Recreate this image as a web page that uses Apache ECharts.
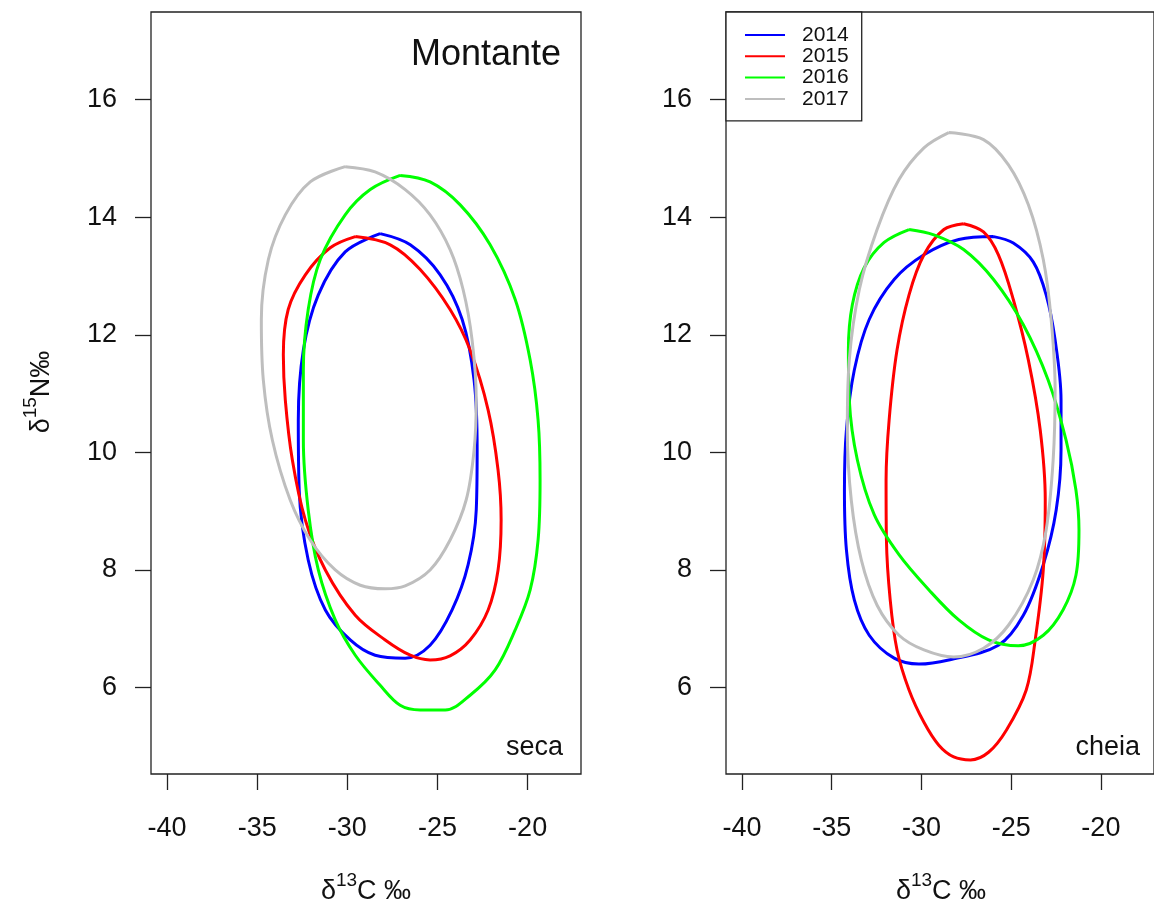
<!DOCTYPE html>
<html>
<head>
<meta charset="utf-8">
<script src="https://cdn.jsdelivr.net/npm/echarts@6/dist/echarts.min.js"></script>
<style>
html,body{margin:0;padding:0;background:#fff;}
#chart{width:1154px;height:905px;}
</style>
</head>
<body>
<div id="chart"></div>
<script>
// ---- tick labels / categories ----
const xTicks = [-40, -35, -30, -25, -20];
const yTicks = [6, 8, 10, 12, 14, 16];
const years = ['2014', '2015', '2016', '2017'];
const panelLabels = ['seca', 'cheia'];

// ---- ellipse outlines, [δ13C, δ15N] ----
// Left panel (Montante, seca)
const seca2014 = [[-28.18,13.72],[-26.51,13.53],[-24.85,13.02],[-23.63,12.26],[-22.97,11.23],[-22.80,10.04],[-22.85,9.02],[-23.30,8.09],[-24.19,7.32],[-25.41,6.72],[-26.79,6.50],[-28.46,6.55],[-29.84,6.81],[-31.22,7.32],[-32.17,8.17],[-32.67,9.36],[-32.72,10.55],[-32.44,11.74],[-31.61,12.68],[-30.12,13.41]];
const seca2015 = [[-29.56,13.67],[-27.62,13.53],[-25.96,13.11],[-24.30,12.43],[-23.19,11.74],[-22.19,10.72],[-21.64,9.70],[-21.47,8.85],[-21.64,8.00],[-22.19,7.32],[-23.19,6.81],[-24.30,6.54],[-25.41,6.47],[-26.51,6.55],[-27.90,6.81],[-29.56,7.23],[-31.22,8.00],[-32.33,8.85],[-33.05,9.87],[-33.44,10.89],[-33.55,11.66],[-33.28,12.43],[-32.33,13.02],[-30.95,13.48]];
const seca2016 = [[-27.07,14.71],[-25.41,14.60],[-23.74,14.21],[-22.08,13.53],[-20.69,12.60],[-19.86,11.57],[-19.42,10.55],[-19.31,9.53],[-19.42,8.51],[-19.86,7.66],[-20.69,6.98],[-21.80,6.30],[-23.19,5.87],[-24.57,5.62],[-25.96,5.62],[-27.07,5.70],[-28.18,6.04],[-29.56,6.55],[-30.67,7.15],[-31.61,8.00],[-32.17,9.02],[-32.44,10.21],[-32.44,11.40],[-32.17,12.43],[-31.50,13.28],[-30.12,14.04],[-28.73,14.47]];
const seca2017 = [[-30.12,14.86],[-28.46,14.77],[-26.79,14.47],[-25.41,14.04],[-24.30,13.45],[-23.58,12.77],[-23.08,11.91],[-22.85,10.89],[-22.97,10.04],[-23.41,9.19],[-24.30,8.51],[-25.41,8.00],[-26.79,7.73],[-27.90,7.68],[-29.28,7.74],[-30.67,8.00],[-32.06,8.51],[-33.17,9.19],[-34.16,10.21],[-34.66,11.23],[-34.77,12.26],[-34.38,13.28],[-33.44,14.04],[-32.06,14.60]];
// Right panel (cheia)
const cheia2014 = [[-25.98,13.67],[-24.88,13.56],[-23.77,13.24],[-23.05,12.68],[-22.55,11.91],[-22.22,10.89],[-22.22,10.04],[-22.49,9.02],[-23.21,8.09],[-24.32,7.23],[-25.71,6.72],[-28.48,6.47],[-30.14,6.40],[-31.52,6.50],[-32.91,6.89],[-33.74,7.49],[-34.18,8.34],[-34.29,9.36],[-34.18,10.38],[-33.74,11.40],[-32.91,12.26],[-31.52,12.94],[-29.86,13.36],[-27.92,13.62]];
const cheia2015 = [[-27.65,13.89],[-26.54,13.75],[-25.71,13.36],[-24.88,12.60],[-24.04,11.57],[-23.38,10.38],[-23.10,9.19],[-23.21,8.00],[-23.66,6.81],[-24.16,5.96],[-25.26,5.28],[-26.26,4.90],[-27.26,4.77],[-28.20,4.82],[-29.03,5.02],[-29.86,5.41],[-30.69,5.96],[-31.36,6.64],[-31.74,7.49],[-31.95,8.51],[-31.97,9.53],[-31.80,10.55],[-31.36,11.74],[-30.69,12.68],[-29.86,13.36],[-28.75,13.79]];
const cheia2016 = [[-30.69,13.79],[-29.31,13.70],[-27.65,13.45],[-25.98,12.94],[-24.32,12.17],[-22.94,11.23],[-21.94,10.21],[-21.39,9.36],[-21.22,8.68],[-21.39,7.91],[-22.11,7.32],[-23.21,6.89],[-24.60,6.71],[-26.26,6.81],[-27.92,7.15],[-29.58,7.66],[-31.25,8.26],[-32.63,8.94],[-33.57,9.87],[-34.02,10.89],[-34.07,11.74],[-33.85,12.51],[-33.19,13.14],[-32.08,13.57]];
const cheia2017 = [[-28.48,15.44],[-26.54,15.32],[-25.15,14.89],[-24.04,14.21],[-23.21,13.28],[-22.77,12.26],[-22.55,11.06],[-22.66,9.87],[-23.05,8.68],[-23.77,7.83],[-25.15,7.06],[-26.54,6.67],[-28.20,6.52],[-29.86,6.64],[-31.25,6.89],[-32.47,7.40],[-33.35,8.17],[-33.91,9.19],[-34.13,10.38],[-34.02,11.57],[-33.46,12.77],[-32.47,13.79],[-31.25,14.64],[-29.86,15.18]];

const panels = [
  [seca2014, seca2015, seca2016, seca2017],
  [cheia2014, cheia2015, cheia2016, cheia2017]
];

// ---- styles ----
const palette = ['#0000FF', '#FF0000', '#00FF00', '#BEBEBE'];
const FONT = 'Liberation Sans, Arial, sans-serif';
const xRange = [-40.89, -17.04];
const yRange = [4.53, 17.49];

const chart = echarts.init(document.getElementById('chart'), null, {renderer: 'canvas'});

const grids = [
  {left: 151, top: 12, width: 430, height: 762},
  {left: 726, top: 12, width: 430, height: 762}
].map(g => Object.assign(g, {show: true, borderColor: '#222', borderWidth: 1.3, backgroundColor: 'transparent', containLabel: false}));

function xAxisFor(i) {
  return {
    type: 'value', gridIndex: i, min: xRange[0], max: xRange[1],
    splitLine: {show: false},
    axisLine: {show: false},
    axisTick: {show: true, customValues: xTicks, length: 16, inside: false, lineStyle: {color: '#222', width: 1.3}},
    axisLabel: {show: true, customValues: xTicks, margin: 41, fontSize: 27, fontFamily: FONT, color: '#111'}
  };
}
function yAxisFor(i) {
  return {
    type: 'value', gridIndex: i, min: yRange[0], max: yRange[1],
    splitLine: {show: false},
    axisLine: {show: false},
    axisTick: {show: true, customValues: yTicks, length: 16, lineStyle: {color: '#222', width: 1.3}},
    axisLabel: {show: true, customValues: yTicks, margin: 34, fontSize: 27, fontFamily: FONT, color: '#111'}
  };
}

const series = [];
panels.forEach((sets, p) => {
  sets.forEach((pts, i) => {
    series.push({
      type: 'line', name: years[i], xAxisIndex: p, yAxisIndex: p,
      data: pts.concat([pts[0]]),
      smooth: 0.35, symbol: 'none', showSymbol: false,
      color: palette[i],
      lineStyle: {width: 3, color: palette[i]},
      silent: true, animation: false, clip: true
    });
  });
});

const titleRich = {
  g: {fontSize: 27, fontFamily: FONT, fill: '#111', color: '#111', lineHeight: 34, verticalAlign: 'bottom'},
  s: {fontSize: 19, fontFamily: FONT, fill: '#111', color: '#111', lineHeight: 20, verticalAlign: 'top'}
};

chart.setOption({
  animation: false,
  backgroundColor: '#fff',
  grid: grids,
  xAxis: [xAxisFor(0), xAxisFor(1)],
  yAxis: [yAxisFor(0), yAxisFor(1)],
  legend: {
    data: years, orient: 'vertical', left: 726, top: 12,
    padding: [12.5, 13, 11.5, 19], itemGap: 0.3,
    itemWidth: 40, itemHeight: 2, icon: 'rect',
    selectedMode: false,
    backgroundColor: '#fff', borderColor: '#222', borderWidth: 1.3,
    textStyle: {fontSize: 21, lineHeight: 21, fontFamily: FONT, color: '#111', padding: [0, 0, 0, 12]}
  },
  series: series,
  graphic: [
    {type: 'text', x: 561, y: 55, style: {text: 'Montante', fontSize: 36, fontFamily: FONT, fill: '#111', align: 'right', verticalAlign: 'middle'}},
    {type: 'text', x: 563, y: 748, style: {text: panelLabels[0], fontSize: 27, fontFamily: FONT, fill: '#111', align: 'right', verticalAlign: 'middle'}},
    {type: 'text', x: 1140, y: 748, style: {text: panelLabels[1], fontSize: 27, fontFamily: FONT, fill: '#111', align: 'right', verticalAlign: 'middle'}},
    {type: 'text', x: 366, y: 888, style: {text: '{g|δ}{s|13}{g|C ‰}', rich: titleRich, align: 'center', verticalAlign: 'middle'}},
    {type: 'text', x: 941, y: 888, style: {text: '{g|δ}{s|13}{g|C ‰}', rich: titleRich, align: 'center', verticalAlign: 'middle'}},
    {type: 'text', x: 38, y: 392, rotation: Math.PI / 2, style: {text: '{g|δ}{s|15}{g|N‰}', rich: titleRich, align: 'center', verticalAlign: 'middle'}}
  ]
});
</script>
</body>
</html>
